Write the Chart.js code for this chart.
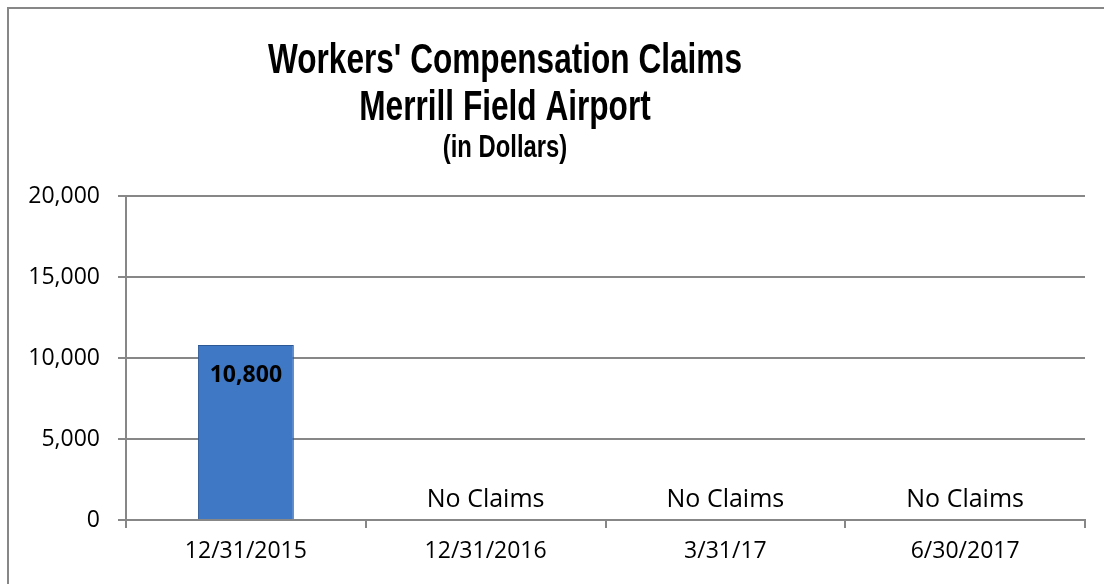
<!DOCTYPE html>
<html>
<head>
<meta charset="utf-8">
<script src="https://cdn.jsdelivr.net/npm/chart.js@4"></script>
<style>
  html, body { margin: 0; padding: 0; background: #fff; }
  canvas { display: block; }
</style>
</head>
<body>
<canvas id="claimsChart" width="1104" height="584"></canvas>
<script>
// Dados
const categories = ['12/31/2015', '12/31/2016', '3/31/17', '6/30/2017'];
const claimValues = [10800, 0, 0, 0];
const titleLines = ["Workers' Compensation Claims", 'Merrill Field Airport', '(in Dollars)'];
const emptyLabel = 'No Claims';

const yMin = 0;
const yMax = 20000;
const yStep = 5000;

// Formata número
function formatNumber(v) {
  return Number(v).toLocaleString('en-US');
}

// Borda externa + título (fonte estreita, tipo Arial Narrow)
const frameAndTitle = {
  id: 'frameAndTitle',
  beforeDraw(chart) {
    const c = chart.ctx;
    c.save();
    c.fillStyle = '#fff';
    c.fillRect(0, 0, chart.width, chart.height);
    c.strokeStyle = '#878787';
    c.lineWidth = 2;
    c.strokeRect(8, 8, chart.width + 20, chart.height + 20);
    c.restore();
  },
  afterDraw(chart) {
    const c = chart.ctx;
    const cx = 505;
    const lines = [
      { text: titleLines[0], size: 39.5, y: 73 },
      { text: titleLines[1], size: 39.5, y: 120 },
      { text: titleLines[2], size: 29.8, y: 157 }
    ];
    c.save();
    c.fillStyle = '#000';
    c.textAlign = 'center';
    c.textBaseline = 'alphabetic';
    lines.forEach(l => {
      c.save();
      c.translate(cx, l.y);
      c.scale(0.8, 1.06);
      c.font = `bold ${l.size}px "Liberation Sans", Arial, sans-serif`;
      c.fillText(l.text, 0, 0);
      c.restore();
    });
    c.restore();
  }
};

// Rótulos de valor
const valueLabels = {
  id: 'valueLabels',
  afterDatasetsDraw(chart) {
    const c = chart.ctx;
    const meta = chart.getDatasetMeta(0);
    c.save();
    c.fillStyle = '#000';
    c.textAlign = 'center';
    meta.data.forEach((bar, i) => {
      const v = claimValues[i];
      if (v > 0) {
        c.font = 'bold 23px "Open Sans", sans-serif';
        c.textBaseline = 'middle';
        c.fillText(formatNumber(v), bar.x, bar.y + 30);
      } else {
        c.font = '25px "Open Sans", sans-serif';
        c.textBaseline = 'alphabetic';
        c.fillText(emptyLabel, bar.x, bar.y - 13);
      }
    });
    c.restore();
  }
};

// Gradiente da barra (bordas mais escuras, tipo bisel)
function barGradient(context) {
  const chart = context.chart;
  const el = context.element;
  if (!chart.chartArea || !el || !el.width) return '#3f78c4';
  const half = el.width / 2;
  const g = chart.ctx.createLinearGradient(el.x - half, 0, el.x + half, 0);
  g.addColorStop(0, '#2f5c9c');
  g.addColorStop(0.08, '#3d73c0');
  g.addColorStop(0.5, '#427bc9');
  g.addColorStop(0.92, '#3d73c0');
  g.addColorStop(1, '#2a5290');
  return g;
}

const ctx = document.getElementById('claimsChart').getContext('2d');
new Chart(ctx, {
  type: 'bar',
  data: {
    labels: categories,
    datasets: [{
      data: claimValues,
      backgroundColor: barGradient,
      borderColor: '#2d5896',
      borderWidth: 1,
      barPercentage: 0.4,
      categoryPercentage: 1
    }]
  },
  options: {
    responsive: false,
    animation: false,
    layout: { padding: { top: 196, right: 19, left: 0, bottom: 0 } },
    plugins: {
      legend: { display: false },
      title: { display: false },
      tooltip: { enabled: false }
    },
    scales: {
      x: {
        offset: true,
        grid: {
          offset: true,
          drawOnChartArea: false,
          drawTicks: true,
          tickLength: 8,
          color: '#878787',
          lineWidth: 2
        },
        border: { color: '#878787', width: 2 },
        ticks: {
          color: '#000',
          padding: 10,
          maxRotation: 0,
          font: { family: '"Open Sans", sans-serif', size: 23 }
        },
        afterFit(scale) { scale.height = 64; }
      },
      y: {
        min: yMin,
        max: yMax,
        grid: {
          color: '#878787',
          lineWidth: 2,
          drawTicks: true,
          tickLength: 8
        },
        border: { color: '#878787', width: 2 },
        ticks: {
          stepSize: yStep,
          color: '#000',
          padding: 18,
          font: { family: '"Open Sans", sans-serif', size: 23 },
          callback: v => formatNumber(v)
        },
        afterFit(scale) { scale.width = 126; }
      }
    }
  },
  plugins: [frameAndTitle, valueLabels]
});
</script>
</body>
</html>
